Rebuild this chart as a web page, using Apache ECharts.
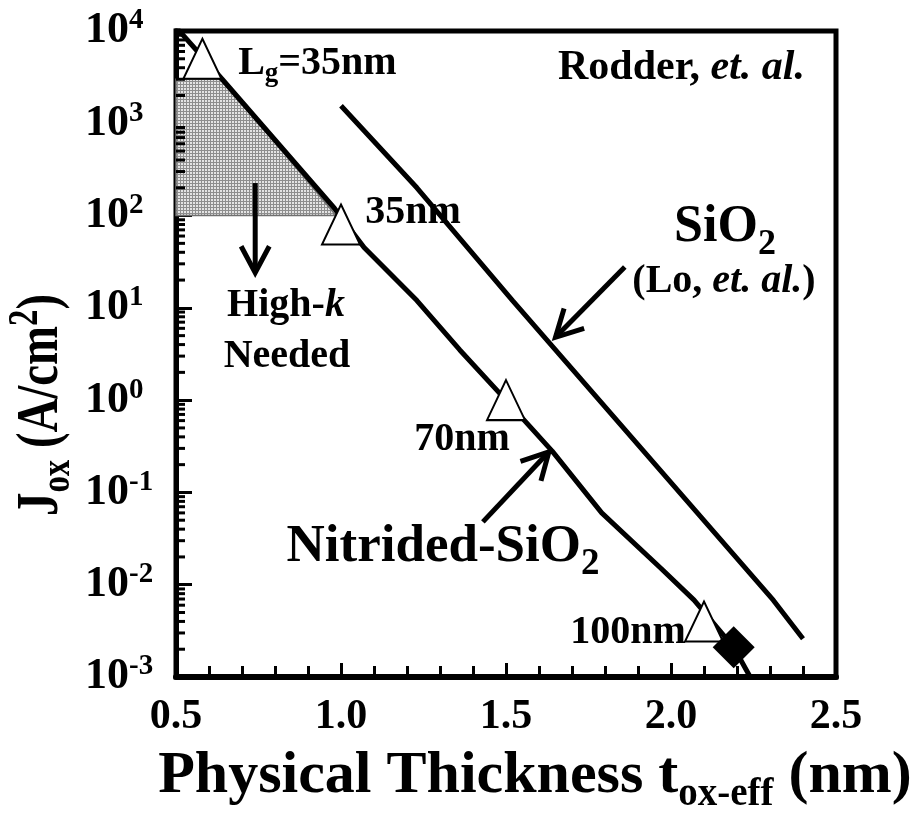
<!DOCTYPE html>
<html>
<head>
<meta charset="utf-8">
<script src="https://cdn.jsdelivr.net/npm/echarts@6/dist/echarts.min.js"></script>
<style>
  html, body { margin: 0; padding: 0; background: #fff; }
  #chart { width: 921px; height: 814px; }
</style>
</head>
<body>
<div id="chart"></div>
<script>
// Gate-oxide leakage current density vs. physical oxide thickness
const FONT = '"Liberation Serif", "Times New Roman", serif';

// Nitrided-SiO2 leakage curve: thickness (nm), Jox (A/cm^2)
const nitridedX = [0.50, 0.64, 0.98, 1.07, 1.23, 1.36, 1.50, 1.64, 1.79, 1.97, 2.07, 2.19, 2.24];
const nitridedJ = [11000, 3000, 120, 45, 12, 3.5, 1.0, 0.28, 0.06, 0.015, 0.0068, 0.0021, 0.001];

// SiO2 leakage curve (Lo, et. al.)
const sio2X = [1.0, 1.23, 1.52, 2.31, 2.40];
const sio2J = [1550, 200, 12, 0.0068, 0.0026];

// Technology nodes (open triangles)
const nodeX = [0.58, 1.0, 1.5, 2.1];
const nodeJ = [5000, 80, 1.0, 0.004];
const nodeNames = ['L_g=35nm', '35nm', '70nm', '100nm'];

// Measured device (filled diamond)
const measuredX = [2.19];
const measuredJ = [0.0021];

// "High-k needed" region outline
const regionX = [0.5, 0.5, 0.64, 0.985];
const regionJ = [100, 3000, 3000, 100];

// Annotation arrows: [tailX, tailJ, tipX, tipJ]
const arrowHighK = [0.74, 225, 0.74, 24];
const arrowSiO2 = [1.86, 27.7, 1.65, 4.8];
const arrowNitrided = [1.43, 0.048, 1.63, 0.275];

// Axis ticks
const xTickStep = 0.5;
const yMinorMultipliers = [2, 3, 4, 5, 6, 7, 8, 9];
const yDecades = [-3, -2, -1, 0, 1, 2, 3];

const pairs = (xs, ys) => xs.map((x, i) => [x, ys[i]]);

// rich-text token helpers
function tok(size, extra) {
  return Object.assign({ fontFamily: FONT, fontWeight: 'bold', fontSize: size,
    color: '#000', fill: '#000', verticalAlign: 'middle' }, extra || {});
}
function sub(size, drop) { return tok(size, { padding: [drop * 2, 0, 0, 0] }); }
function sup(size, rise) { return tok(size, { padding: [0, 0, rise * 2, 0] }); }

// minor tick positions on the log axis
const yMinorTicks = [];
yDecades.forEach(e => yMinorMultipliers.forEach(m => yMinorTicks.push([0.5, m * Math.pow(10, e)])));

function dotPattern() {
  const c = document.createElement('canvas');
  c.width = 3; c.height = 3;
  const g = c.getContext('2d');
  g.fillStyle = '#8e8e8e'; g.fillRect(0, 0, 3, 3);
  g.fillStyle = '#e4e4e4'; g.fillRect(1, 1, 2, 2);
  return c;
}

const nodeLabelOffsets = [[115, 5], [72, -12], [-44, 40], [-76, 11]];
const nodeLabelText = ['{m|L}{g|g}{m|=35nm}', '{m|35nm}', '{m|70nm}', '{m|100nm}'];

const chart = echarts.init(document.getElementById('chart'));

const option = {
  backgroundColor: '#fff',
  animation: false,
  grid: { left: 176, right: 85, top: 31, bottom: 137, show: true,
          borderColor: '#000', borderWidth: 5, backgroundColor: 'transparent' },
  xAxis: {
    type: 'value', min: 0.5, max: 2.5, interval: xTickStep,
    axisLine: { show: true, onZero: false, lineStyle: { color: '#000', width: 6 } },
    axisTick: { show: true, inside: true, length: 14, lineStyle: { color: '#000', width: 3 } },
    minorTick: { show: true, splitNumber: 5, length: 11, lineStyle: { color: '#000', width: 3 } },
    splitLine: { show: false }, minorSplitLine: { show: false },
    axisLabel: { margin: 19, fontFamily: FONT, fontWeight: 'bold', fontSize: 42, color: '#000',
                 formatter: v => v.toFixed(1) }
  },
  yAxis: {
    type: 'log', logBase: 10, min: 0.001, max: 10000,
    axisLine: { show: true, onZero: false, lineStyle: { color: '#000', width: 5 } },
    axisTick: { show: true, inside: true, length: 16, lineStyle: { color: '#000', width: 3 } },
    splitLine: { show: false },
    axisLabel: {
      align: 'left', margin: 91,
      formatter: v => '{b|10}{s|' + Math.round(Math.log10(v)) + '}',
      rich: { b: tok(44), s: sup(29, 10) }
    }
  },
  graphic: [
    { type: 'text', x: 535, y: 776, z: 100,
      style: { text: '{m|Physical Thickness t}{s|ox-eff}{m| (nm)}', align: 'center', verticalAlign: 'middle',
               rich: { m: tok(60), s: sub(39, 19) } } },
    { type: 'text', x: 41, y: 405, rotation: Math.PI / 2, scaleX: 0.78, z: 100,
      style: { text: '{m|J}{s|ox}{m| (A/cm}{p|2}{m|)}', align: 'center', verticalAlign: 'middle',
               rich: { m: tok(60), s: sub(42, 17), p: sup(42, 15) } } },
    { type: 'text', x: 558, y: 68, z: 100,
      style: { text: '{m|Rodder, }{i|et. al.}', align: 'left', verticalAlign: 'middle',
               rich: { m: tok(42), i: tok(42, { fontStyle: 'italic' }) } } },
    { type: 'text', x: 725, y: 228, z: 100,
      style: { text: '{m|SiO}{s|2}', align: 'center', verticalAlign: 'middle',
               rich: { m: tok(52), s: sub(36, 17) } } },
    { type: 'text', x: 724, y: 282, z: 100,
      style: { text: '{m|(Lo, }{i|et. al.}{m|)}', align: 'center', verticalAlign: 'middle',
               rich: { m: tok(40), i: tok(40, { fontStyle: 'italic' }) } } },
    { type: 'text', x: 286, y: 306, z: 100,
      style: { text: '{m|High-}{i|k}', align: 'center', verticalAlign: 'middle',
               rich: { m: tok(40), i: tok(40, { fontStyle: 'italic' }) } } },
    { type: 'text', x: 287, y: 357, z: 100,
      style: { text: '{m|Needed}', align: 'center', verticalAlign: 'middle', rich: { m: tok(40) } } },
    { type: 'text', x: 443, y: 547, z: 100,
      style: { text: '{m|Nitrided-SiO}{s|2}', align: 'center', verticalAlign: 'middle',
               rich: { m: tok(53), s: sub(37, 17) } } }
  ],
  series: [
    {
      // shaded "High-k needed" region
      type: 'custom', coordinateSystem: 'cartesian2d', z: 1, silent: true,
      data: pairs(regionX, regionJ),
      renderItem: (params, api) => {
        if (params.dataIndex !== 0) return null;
        const pts = regionX.map((x, i) => api.coord([x, regionJ[i]]));
        return {
          type: 'polygon', shape: { points: pts },
          style: { fill: { image: dotPattern(), repeat: 'repeat' }, stroke: '#6f6f6f', lineWidth: 1.5 }
        };
      }
    },
    {
      // minor ticks of the log axis
      type: 'custom', coordinateSystem: 'cartesian2d', z: 3, silent: true, clip: false,
      data: yMinorTicks,
      renderItem: (params, api) => {
        const p = api.coord([api.value(0), api.value(1)]);
        return { type: 'line', shape: { x1: p[0], y1: p[1], x2: p[0] + 9, y2: p[1] },
                 style: { stroke: '#000', lineWidth: 3 } };
      }
    },
    {
      name: 'SiO2', type: 'line', data: pairs(sio2X, sio2J), showSymbol: false, z: 4,
      lineStyle: { color: '#000', width: 5 }, silent: true
    },
    {
      name: 'Nitrided-SiO2', type: 'line', data: pairs(nitridedX, nitridedJ), showSymbol: false, z: 4,
      lineStyle: { color: '#000', width: 5 }, silent: true
    },
    {
      // arrows
      type: 'custom', coordinateSystem: 'cartesian2d', z: 5, silent: true, clip: false,
      data: [arrowHighK, arrowSiO2, arrowNitrided],
      encode: { x: [0, 2], y: [1, 3] },
      renderItem: (params, api) => {
        const t = api.coord([api.value(0), api.value(1)]);
        const h = api.coord([api.value(2), api.value(3)]);
        const dx = t[0] - h[0], dy = t[1] - h[1];
        const len = Math.hypot(dx, dy);
        const ux = dx / len, uy = dy / len;
        const a = 28 * Math.PI / 180, L = 30;
        const rot = (s) => [h[0] + L * (ux * Math.cos(s) - uy * Math.sin(s)),
                            h[1] + L * (ux * Math.sin(s) + uy * Math.cos(s))];
        const st = { stroke: '#000', lineWidth: 5, fill: null, lineJoin: 'miter', lineCap: 'butt' };
        return {
          type: 'group', children: [
            { type: 'line', shape: { x1: t[0], y1: t[1], x2: h[0] + ux * 2, y2: h[1] + uy * 2 }, style: st },
            { type: 'polyline', shape: { points: [rot(a), h, rot(-a)] }, style: st }
          ]
        };
      }
    },
    {
      name: 'Nodes', type: 'scatter', z: 6, silent: true,
      symbol: 'triangle', symbolSize: [38, 40],
      itemStyle: { color: '#fff', borderColor: '#000', borderWidth: 2, opacity: 1 },
      data: nodeX.map((x, i) => ({
        value: [x, nodeJ[i]], name: nodeNames[i],
        label: {
          show: true, position: 'inside', offset: nodeLabelOffsets[i], color: '#000',
          formatter: nodeLabelText[i],
          rich: { m: tok(40), g: sub(27, 10) }
        }
      }))
    },
    {
      name: 'Measured', type: 'scatter', z: 7, silent: true,
      symbol: 'diamond', symbolSize: [42, 42],
      itemStyle: { color: '#000', opacity: 1 },
      data: pairs(measuredX, measuredJ)
    }
  ]
};

chart.setOption(option);
</script>
</body>
</html>
